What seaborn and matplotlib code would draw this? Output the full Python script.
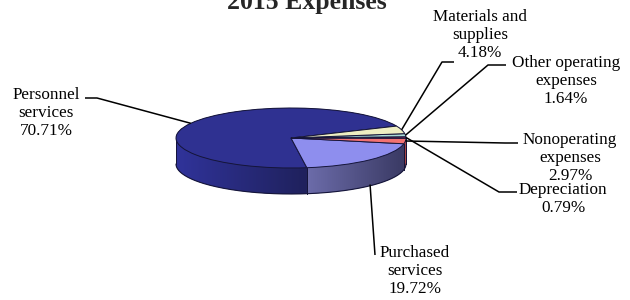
import numpy as np
import matplotlib.pyplot as plt
import matplotlib.colors as mcolors
from matplotlib.path import Path
import seaborn as sns

#### data
categories = ['Personnel services', 'Purchased services', 'Nonoperating expenses',
              'Depreciation', 'Other operating expenses', 'Materials and supplies']
shares = [70.71, 19.72, 2.97, 0.79, 1.64, 4.18]
label_text = ['Personnel\nservices\n70.71%', 'Purchased\nservices\n19.72%',
              'Nonoperating\nexpenses\n2.97%', 'Depreciation\n0.79%',
              'Other operating\nexpenses\n1.64%', 'Materials and\nsupplies\n4.18%']
title = '2015 Expenses'

top_colors = ['#2f3191', '#8e8eee', '#f27272', '#993366', '#a9d9d6', '#eeeec2']
side_left = ['#30339a', '#6c6caa', '#c85454', '#7a2848', '#8ab8b5', '#c8c89a']
side_right = ['#1f215c', '#3a3a64', '#903a3a', '#501830', '#5a807d', '#8a8a66']

sns.set_theme(style='white')
plt.rcParams['font.family'] = ['Liberation Serif', 'DejaVu Serif']

W, H = 630, 300
cx, cy = 291, 138      # pie centre in image pixels
rx, ry = 115, 30       # pixels per data unit (x, y)
depth = 26 / ry
edge = '#15153a'

fig = plt.figure(figsize=(W / 100, H / 100), dpi=100)
ax = fig.add_axes([0, 0, 1, 1])


def px(x, y):
    # image pixel (top-left origin) -> data coords
    return (x - cx) / rx, (cy - y) / ry


start = 23.4
# side walls: stacked pies going down
for d in np.linspace(depth, 0, 40):
    ax.pie(shares, colors=side_right, startangle=start, center=(0, -d), radius=1,
           wedgeprops=dict(linewidth=0), frame=True)
wedges, _ = ax.pie(shares, colors=top_colors, startangle=start, center=(0, 0), radius=1,
                   wedgeprops=dict(edgecolor=edge, linewidth=0.7), frame=True)
for w in wedges:
    w.set_zorder(3)

# shaded front of each slice (gradient left -> right)
for i, w in enumerate(wedges):
    for shift in (0, 360):
        lo = max(w.theta1 - shift, 180)
        hi = min(w.theta2 - shift, 360)
        if hi - lo < 0.2:
            continue
        a = np.deg2rad(np.linspace(lo, hi, 80))
        xs = np.concatenate([np.cos(a), np.cos(a)[::-1]])
        ys = np.concatenate([np.sin(a), np.sin(a)[::-1] - depth])
        c0 = np.array(mcolors.to_rgb(side_left[i]))
        c1 = np.array(mcolors.to_rgb(side_right[i]))
        t = np.linspace(0, 1, 256)[:, None]
        grad = (c0 * (1 - t) + c1 * t)[None, :, :]
        im = ax.imshow(grad, extent=[xs.min(), xs.max(), ys.min(), ys.max()],
                       aspect='auto', zorder=2, interpolation='bilinear')
        im.set_clip_path(Path(np.column_stack([xs, ys])), ax.transData)
        # boundary line on the front
        for ang in (lo, hi):
            r = np.deg2rad(ang)
            ax.plot([np.cos(r)] * 2, [np.sin(r), np.sin(r) - depth], color=edge, lw=0.7, zorder=2.5)

# bottom rim
a = np.deg2rad(np.linspace(180, 360, 200))
ax.plot(np.cos(a), np.sin(a) - depth, color=edge, lw=0.8, zorder=2.5)


def rim(w, r=1.0, drop=0.0):
    a = np.deg2rad((w.theta1 + w.theta2) / 2)
    return r * np.cos(a), r * np.sin(a) - drop


#### labels: text centre, elbow, text-side end (pixels); leader goes to slice
labels = [
    dict(i=0, txt=(46, 113), elbow=(97, 98), end=(85, 98), drop=0),
    dict(i=1, txt=(415, 271), elbow=(375, 255), end=(375, 255), drop=depth * 0.95),
    dict(i=2, txt=(570, 158), elbow=(505, 143), end=(518, 143), drop=0),
    dict(i=3, txt=(563, 199), elbow=(499, 192), end=(517, 192), drop=0),
    dict(i=4, txt=(566, 81), elbow=(488, 65), end=(506, 65), drop=0),
    dict(i=5, txt=(480, 35), elbow=(442, 62), end=(454, 62), drop=0),
]
for lab in labels:
    w = wedges[lab['i']]
    p0 = rim(w, 1.0, lab['drop'])
    p1 = px(*lab['elbow'])
    p2 = px(*lab['end'])
    ax.plot([p0[0], p1[0], p2[0]], [p0[1], p1[1], p2[1]], color='black', lw=1.1,
            solid_capstyle='butt', zorder=4)
    tx, ty = px(*lab['txt'])
    ax.text(tx, ty, label_text[lab['i']], ha='center', va='center', fontsize=12.3,
            linespacing=1.2, color='black', zorder=5)

tx, ty = px(307, 8.5)
ax.text(tx, ty, title, ha='center', va='baseline', fontsize=18.5, fontweight='bold')

ax.set_aspect('auto')
ax.set_xlim(-cx / rx, (W - cx) / rx)
ax.set_ylim((cy - H) / ry, cy / ry)
ax.axis('off')

fig.savefig('out.png', dpi=100)
